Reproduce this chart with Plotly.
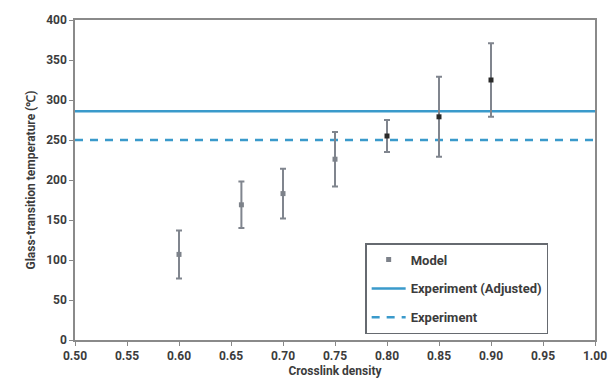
import plotly.graph_objects as go

# Crosslink density vs. modelled glass-transition temperature
crosslink_density = [0.60, 0.66, 0.70, 0.75, 0.80, 0.85, 0.90]
model_tg = [107, 169, 183, 226, 255, 279, 325]
model_err = [30, 29, 31, 34, 20, 50, 46]

# Experimental reference values
exp_adjusted_tg = 286
exp_tg = 250
x_span = [0.50, 1.00]

x_ticks = [0.50, 0.55, 0.60, 0.65, 0.70, 0.75, 0.80, 0.85, 0.90, 0.95, 1.00]
y_ticks = [0, 50, 100, 150, 200, 250, 300, 350, 400]

FONT = "Liberation Sans Narrow, Roboto, Arial Narrow, sans-serif"
TEXT = "#3c3c3c"
BLUE = "#3a9acb"

fig = go.Figure()

fig.add_trace(go.Scatter(
    x=x_span, y=[exp_adjusted_tg] * 2, mode="lines",
    name="<b>Experiment (Adjusted)</b>",
    line=dict(color=BLUE, width=2.5),
    legendgroup="b", legendrank=2,
))
fig.add_trace(go.Scatter(
    x=x_span, y=[exp_tg] * 2, mode="lines",
    name="<b>Experiment</b>",
    line=dict(color=BLUE, width=2.5, dash="8px,7px"),
    legendgroup="c", legendrank=3,
))
fig.add_trace(go.Scatter(
    x=crosslink_density, y=model_tg, mode="markers",
    name="<b>Model</b>",
    marker=dict(symbol="square", size=5,
                color=["#7d828a", "#7d828a", "#7d828a", "#7d828a",
                       "#2a2a2a", "#2a2a2a", "#2a2a2a"]),
    error_y=dict(type="data", array=model_err, visible=True,
                 color="#80858e", thickness=2, width=3),
    legendgroup="a", legendrank=1,
))

fig.update_layout(
    width=610, height=388,
    margin=dict(l=75, r=15, t=20, b=48),
    paper_bgcolor="white", plot_bgcolor="white",
    font=dict(family=FONT, color=TEXT, size=12),
    showlegend=True,
    legend=dict(
        x=0.558, y=0.303, xanchor="left", yanchor="top",
        bgcolor="white", bordercolor="#666a70", borderwidth=1.5,
        font=dict(family=FONT, size=13, color=TEXT),
        traceorder="grouped", tracegroupgap=9,
        itemwidth=34,
    ),
    xaxis=dict(
        range=[0.5, 1.0], tickvals=x_ticks,
        ticktext=[f"<b>{v:.2f}</b>" for v in x_ticks],
        ticks="outside", ticklen=4, tickcolor="#888",
        showline=True, linecolor="#8a8a8a", linewidth=1.5, mirror=True,
        showgrid=False, zeroline=False, automargin=False,
        tickfont=dict(family=FONT, size=12, color=TEXT),
        title=dict(text="<b>Crosslink density</b>", standoff=4,
                   font=dict(family=FONT, size=12, color=TEXT)),
    ),
    yaxis=dict(
        range=[0, 400], tickvals=y_ticks,
        ticktext=[f"<b>{v}</b>" for v in y_ticks],
        ticks="outside", ticklen=4, tickcolor="#888",
        showline=True, linecolor="#8a8a8a", linewidth=1.5, mirror=True,
        showgrid=False, zeroline=False, automargin=False,
        tickfont=dict(family=FONT, size=12, color=TEXT),
        title=dict(text="<b>Glass-transition temperature (℃)</b>", standoff=8,
                   font=dict(family=FONT, size=12, color=TEXT)),
    ),
)

fig.write_html("out.html")
